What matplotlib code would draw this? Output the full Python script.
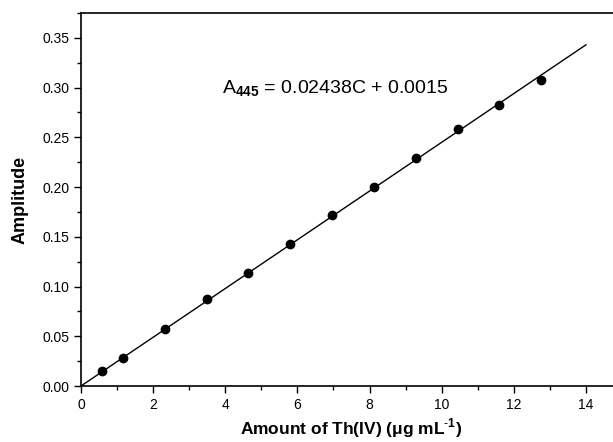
import numpy as np
import matplotlib
matplotlib.use("Agg")
from matplotlib import pyplot as plt
from matplotlib.ticker import MultipleLocator

plt.rcParams['font.family'] = ['Liberation Sans', 'DejaVu Sans']
plt.rcParams['mathtext.fontset'] = 'custom'
plt.rcParams['mathtext.rm'] = 'Liberation Sans'
plt.rcParams['mathtext.bf'] = 'Liberation Sans:bold'

# data
conc = [0.58, 1.16, 2.32, 3.48, 4.64, 5.80, 6.96, 8.12, 9.28, 10.44, 11.60, 12.76]
amp = [0.015, 0.028, 0.057, 0.087, 0.114, 0.143, 0.172, 0.200, 0.229, 0.258, 0.283, 0.308]
fit_x = [0, 14]
fit_y = [0.0, 0.343]

fig = plt.figure(figsize=(6.13, 4.42), dpi=100)
ax = fig.add_axes([81 / 613, (442 - 386) / 442, 541 / 613, 373 / 442])

ax.plot(fit_x, fit_y, color='black', lw=1.0)
ax.plot(conc, amp, 'o', color='black', ms=6)

ax.set_xlim(0, 15)
ax.set_ylim(0, 0.375)
ax.xaxis.set_minor_locator(MultipleLocator(1))
ax.yaxis.set_minor_locator(MultipleLocator(0.025))
ax.set_xticks(np.arange(0, 15, 2))
ax.set_yticks(np.arange(0, 0.36, 0.05))
ax.set_yticklabels([f'{v:.2f}' for v in np.arange(0, 0.36, 0.05)])

ax.tick_params(which='both', direction='out', labelsize=10, width=1)
ax.tick_params(which='major', length=5)
ax.tick_params(which='minor', length=3)
for s in ax.spines.values():
    s.set_linewidth(1.2)

ax.set_xlabel(r'Amount of Th(IV) ($\mathbf{\mu}$g mL$^{\mathbf{\text{-}1}}$)',
              fontsize=12.5, fontweight='bold', labelpad=3)
ax.set_ylabel('Amplitude', fontsize=13, fontweight='bold', labelpad=10)

ax.text(3.91, 0.294, r'A$_{\mathbf{445}}$ = 0.02438C + 0.0015', fontsize=14, va='baseline')

fig.savefig('out.png', dpi=100)
